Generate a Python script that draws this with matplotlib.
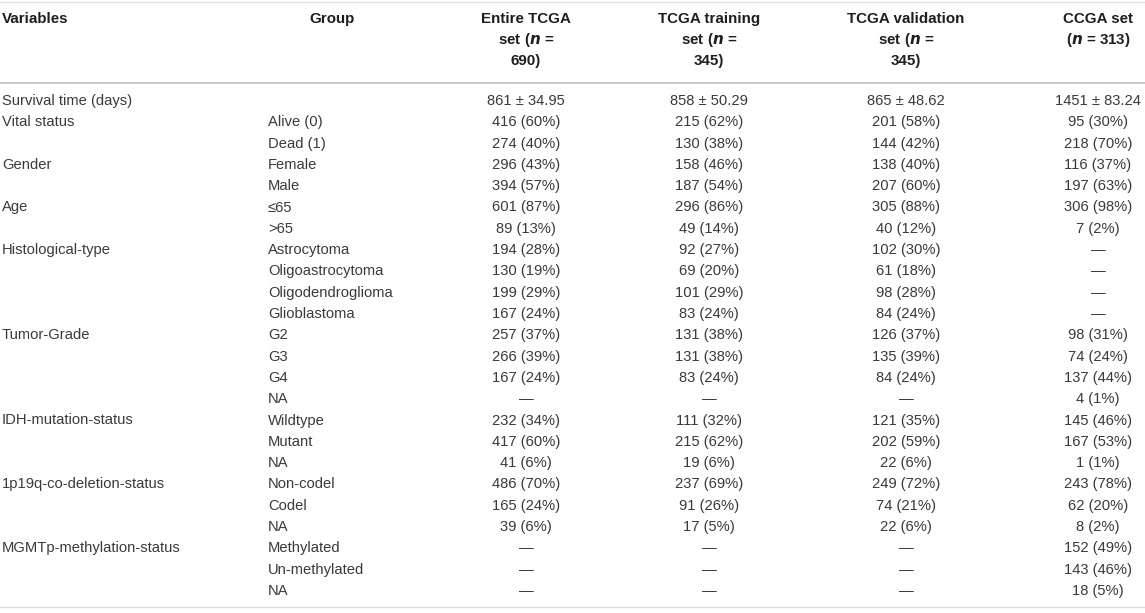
import matplotlib
matplotlib.use("Agg")
import matplotlib.pyplot as plt

variables = ["Survival time (days)", "Vital status", "", "Gender", "", "Age", "",
             "Histological-type", "", "", "", "Tumor-Grade", "", "", "",
             "IDH-mutation-status", "", "", "1p19q-co-deletion-status", "", "",
             "MGMTp-methylation-status", "", ""]
groups = ["", "Alive (0)", "Dead (1)", "Female", "Male", "≤65", ">65",
          "Astrocytoma", "Oligoastrocytoma", "Oligodendroglioma", "Glioblastoma",
          "G2", "G3", "G4", "NA", "Wildtype", "Mutant", "NA",
          "Non-codel", "Codel", "NA", "Methylated", "Un-methylated", "NA"]
D = "—"
entire_tcga = ["861 ± 34.95", "416 (60%)", "274 (40%)", "296 (43%)", "394 (57%)",
               "601 (87%)", "89 (13%)", "194 (28%)", "130 (19%)", "199 (29%)",
               "167 (24%)", "257 (37%)", "266 (39%)", "167 (24%)", D,
               "232 (34%)", "417 (60%)", "41 (6%)", "486 (70%)", "165 (24%)",
               "39 (6%)", D, D, D]
tcga_training = ["858 ± 50.29", "215 (62%)", "130 (38%)", "158 (46%)", "187 (54%)",
                 "296 (86%)", "49 (14%)", "92 (27%)", "69 (20%)", "101 (29%)",
                 "83 (24%)", "131 (38%)", "131 (38%)", "83 (24%)", D,
                 "111 (32%)", "215 (62%)", "19 (6%)", "237 (69%)", "91 (26%)",
                 "17 (5%)", D, D, D]
tcga_validation = ["865 ± 48.62", "201 (58%)", "144 (42%)", "138 (40%)", "207 (60%)",
                   "305 (88%)", "40 (12%)", "102 (30%)", "61 (18%)", "98 (28%)",
                   "84 (24%)", "126 (37%)", "135 (39%)", "84 (24%)", D,
                   "121 (35%)", "202 (59%)", "22 (6%)", "249 (72%)", "74 (21%)",
                   "22 (6%)", D, D, D]
ccga = ["1451 ± 83.24", "95 (30%)", "218 (70%)", "116 (37%)", "197 (63%)",
        "306 (98%)", "7 (2%)", D, D, D, D, "98 (31%)", "74 (24%)", "137 (44%)",
        "4 (1%)", "145 (46%)", "167 (53%)", "1 (1%)", "243 (78%)", "62 (20%)",
        "8 (2%)", "152 (49%)", "143 (46%)", "18 (5%)"]

plt.rcParams["mathtext.fontset"] = "custom"
plt.rcParams["mathtext.bf"] = "Liberation Sans:bold:italic"
plt.rcParams["mathtext.it"] = "Liberation Sans:italic"
plt.rcParams["mathtext.rm"] = "Liberation Sans:bold"

W, H = 1145, 613
fig = plt.figure(figsize=(W / 100, H / 100), dpi=100)
ax = fig.add_axes([0, 0, 1, 1])
ax.set_xlim(0, W)
ax.set_ylim(H, 0)
ax.axis("off")

FONT = ["Liberation Sans", "DejaVu Sans"]
fs_data = 10.6
fs_head = 10.9
col_data = "#3a3a3a"
col_head = "#1e1e1e"

# Rules
ax.plot([0, W], [1.5, 1.5], color="#e2e2e2", lw=1.0)
ax.plot([0, W], [83, 83], color="#c4c4c4", lw=1.3)
ax.plot([0, W], [607, 607], color="#dcdcdc", lw=1.0)

# Header
hdr_base = [23, 44, 65]
ax.text(2, hdr_base[0], "Variables", ha="left", va="baseline", fontsize=fs_head,
        fontweight="bold", family=FONT, color=col_head)
ax.text(332, hdr_base[0], "Group", ha="center", va="baseline", fontsize=fs_head,
        fontweight="bold", family=FONT, color=col_head)

centers = [526, 709, 906, 1098]
headers = [["Entire TCGA", "set ($\\boldsymbol{n}$ =", "690)"],
           ["TCGA training", "set ($\\boldsymbol{n}$ =", "345)"],
           ["TCGA validation", "set ($\\boldsymbol{n}$ =", "345)"],
           ["CCGA set", "($\\boldsymbol{n}$ = 313)"]]
for cx, lines in zip(centers, headers):
    for yy, t in zip(hdr_base, lines):
        ax.text(cx, yy, t, ha="center", va="baseline", fontsize=fs_head,
                fontweight="bold", family=FONT, color=col_head)

y0, dy = 105, 21.3
for i in range(len(groups)):
    y = y0 + i * dy
    ax.text(2, y, variables[i], ha="left", va="baseline", fontsize=fs_data,
            family=FONT, color=col_data)
    ax.text(268, y, groups[i], ha="left", va="baseline", fontsize=fs_data,
            family=FONT, color=col_data)
    for cx, col in zip(centers, [entire_tcga, tcga_training, tcga_validation, ccga]):
        ax.text(cx, y, col[i], ha="center", va="baseline", fontsize=fs_data,
                family=FONT, color=col_data)

fig.savefig("out.png", dpi=100)
